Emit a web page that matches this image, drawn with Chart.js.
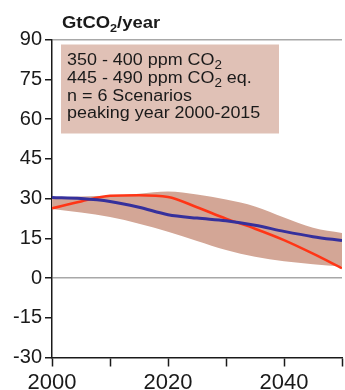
<!DOCTYPE html>
<html>
<head>
<meta charset="utf-8">
<script src="https://cdn.jsdelivr.net/npm/chart.js@4.4.1/dist/chart.umd.min.js"></script>
<style>
  html, body { margin: 0; padding: 0; background: #fff; overflow: hidden; }
  #wrap { width: 345px; height: 390px; position: relative; }
</style>
</head>
<body>
<div id="wrap"><canvas id="c"></canvas></div>
<script>
// Emission pathways, GtCO2/year
const years       = [2000, 2005, 2010, 2015, 2020, 2025, 2030, 2035, 2040, 2045, 2050];
const rangeHigh   = [30.5, 30.8, 31.0, 31.8, 32.6, 31.5, 29.6, 27.0, 22.8, 19.0, 17.0];
const rangeLow    = [26.0, 24.7, 23.0, 20.5, 17.5, 14.0, 10.6, 8.0, 6.3, 5.2, 4.3];
const medianPath  = [30.4, 30.0, 28.9, 26.7, 23.9, 22.6, 21.6, 19.9, 17.6, 15.6, 14.1];
const examplePath = [26.3, 28.9, 31.0, 31.2, 30.6, 26.7, 22.4, 18.6, 14.3, 9.2, 3.7];
const yTicks      = [-30, -15, 0, 15, 30, 45, 60, 75, 90];
const xLabelYears = [2000, 2020, 2040];

const unitLabel = [{t: 'GtCO'}, {t: '2', sub: true}, {t: '/year'}];
const boxLines = [
  [{t: '350 - 400 ppm CO'}, {t: '2', sub: true}],
  [{t: '445 - 490 ppm CO'}, {t: '2', sub: true}, {t: ' eq.'}],
  [{t: 'n = 6 Scenarios'}],
  [{t: 'peaking year 2000-2015'}]
];

const pts = arr => years.map((y, i) => ({x: y, y: arr[i]}));

const FONT = "'Liberation Sans', Arial, sans-serif";

function drawRich(ctx, parts, x, y, size, subSize, subDrop, bold, sx) {
  ctx.save();
  ctx.translate(x, y);
  ctx.scale(sx, 1);
  let cx = 0;
  ctx.fillStyle = '#1a1a1a';
  ctx.textBaseline = 'alphabetic';
  for (const p of parts) {
    const fs = p.sub ? subSize : size;
    ctx.font = (bold ? 'bold ' : '') + fs + 'px ' + FONT;
    ctx.fillText(p.t, cx, p.sub ? subDrop : 0);
    cx += ctx.measureText(p.t).width;
  }
  ctx.restore();
}

const annotations = {
  id: 'annotations',
  afterDraw(chart) {
    const ctx = chart.ctx;
    const a = chart.chartArea;
    // unit label above the plot
    drawRich(ctx, unitLabel, a.left + 10, 28, 16, 11, 4, true, 1.15);
    // scenario description box
    const bx = a.left + 9, by = a.top + 5, bw = 218, bh = 89;
    ctx.save();
    ctx.fillStyle = '#e0c1b6';
    ctx.fillRect(bx, by, bw, bh);
    ctx.restore();
    const base = [65, 83, 100.5, 118];
    boxLines.forEach((ln, i) => drawRich(ctx, ln, bx + 6, base[i], 16, 12, 4, false, 1.12));
  }
};

new Chart(document.getElementById('c'), {
  type: 'line',
  data: {
    datasets: [
      {
        data: pts(rangeHigh), borderWidth: 0, pointRadius: 0,
        backgroundColor: '#d3a696', fill: '+1', cubicInterpolationMode: 'monotone', order: 3
      },
      {
        data: pts(rangeLow), borderWidth: 0, pointRadius: 0,
        backgroundColor: '#d3a696', fill: false, cubicInterpolationMode: 'monotone', order: 3
      },
      {
        data: pts(examplePath), borderColor: '#ff3516', borderWidth: 2.5, pointRadius: 0,
        fill: false, cubicInterpolationMode: 'monotone', order: 2
      },
      {
        data: pts(medianPath), borderColor: '#35309c', borderWidth: 3, pointRadius: 0,
        fill: false, cubicInterpolationMode: 'monotone', order: 1
      }
    ]
  },
  options: {
    responsive: true,
    maintainAspectRatio: false,
    animation: false,
    events: [],
    layout: { padding: { top: 39.5, right: 1, left: 0, bottom: 0 } },
    plugins: { legend: { display: false }, tooltip: { enabled: false } },
    scales: {
      x: {
        type: 'linear', min: 2000, max: 2050,
        afterFit: s => { s.height = 32.5; },
        border: { color: '#1a1a1a', width: 1.5 },
        grid: { drawOnChartArea: false, tickColor: '#1a1a1a', tickLength: 9, tickWidth: 1.5 },
        ticks: {
          stepSize: 10, padding: 3, maxRotation: 0, autoSkip: false,
          color: '#1a1a1a', font: { family: FONT, size: 22 },
          callback: v => xLabelYears.includes(v) ? String(v) : ''
        }
      },
      y: {
        min: -30, max: 90,
        afterFit: s => { s.width = 52; },
        afterBuildTicks: s => { s.ticks = yTicks.map(v => ({value: v})); },
        border: { color: '#1a1a1a', width: 1.5 },
        grid: {
          color: c => (c.tick && (c.tick.value === 0 || c.tick.value === 90)) ? '#a8a8a8' : 'rgba(0,0,0,0)',
          lineWidth: 1.5, tickColor: '#1a1a1a', tickLength: 7, tickWidth: 1.5
        },
        ticks: { padding: 3, color: '#1a1a1a', font: { family: FONT, size: 20 } }
      }
    }
  },
  plugins: [annotations]
});
</script>
</body>
</html>
